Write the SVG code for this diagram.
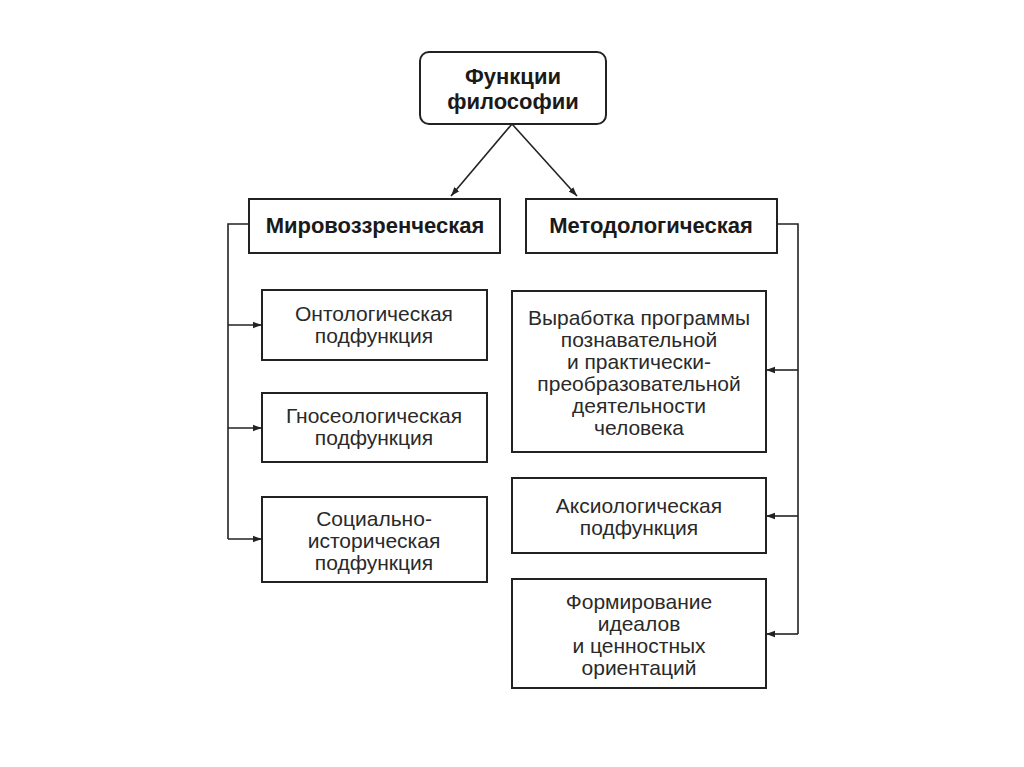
<svg xmlns="http://www.w3.org/2000/svg" width="1024" height="767" viewBox="0 0 1024 767">
<defs>
<marker id="arr" viewBox="0 0 10 10" refX="10" refY="5" markerWidth="9" markerHeight="9" markerUnits="userSpaceOnUse" orient="auto">
<path d="M0,1.5 L10,5 L0,8.5 Z" fill="#222"/>
</marker>
<style>
.box{fill:#fff;stroke:#222;stroke-width:2}
.t{font-family:"Liberation Sans",Arial,sans-serif;font-size:21px;fill:#2a2a2a;text-anchor:middle}
.b{font-weight:bold;fill:#1a1a1a;font-size:22px}
.c{fill:none;stroke:#222;stroke-width:1.6}
</style>
</defs>
<rect width="1024" height="767" fill="#fff"/>
<g id="root">
<rect class="box" x="420" y="52" width="186" height="72" rx="9"/>
<text class="t b" x="513" y="84">Функции</text>
<text class="t b" x="513" y="109">философии</text>
</g>
<g id="mirovozz">
<rect class="box" x="249" y="199" width="251" height="54"/>
<text class="t b" x="375" y="233">Мировоззренческая</text>
</g>
<g id="metodol">
<rect class="box" x="526" y="199" width="251" height="54"/>
<text class="t b" x="651" y="233">Методологическая</text>
</g>
<g id="onto">
<rect class="box" x="262" y="290" width="225" height="70"/>
<text class="t" x="374" y="321">Онтологическая</text>
<text class="t" x="374" y="343">подфункция</text>
</g>
<g id="gnoseo">
<rect class="box" x="262" y="393" width="225" height="69"/>
<text class="t" x="374" y="423">Гносеологическая</text>
<text class="t" x="374" y="445">подфункция</text>
</g>
<g id="social">
<rect class="box" x="262" y="497" width="225" height="85"/>
<text class="t" x="374" y="526">Социально-</text>
<text class="t" x="374" y="548">историческая</text>
<text class="t" x="374" y="570">подфункция</text>
</g>
<g id="vyrabotka">
<rect class="box" x="512" y="291" width="254" height="161"/>
<text class="t" x="639" y="325">Выработка программы</text>
<text class="t" x="639" y="347">познавательной</text>
<text class="t" x="639" y="369">и практически-</text>
<text class="t" x="639" y="391">преобразовательной</text>
<text class="t" x="639" y="413">деятельности</text>
<text class="t" x="639" y="435">человека</text>
</g>
<g id="aksio">
<rect class="box" x="512" y="478" width="254" height="75"/>
<text class="t" x="639" y="513">Аксиологическая</text>
<text class="t" x="639" y="535">подфункция</text>
</g>
<g id="formir">
<rect class="box" x="512" y="579" width="254" height="109"/>
<text class="t" x="639" y="609">Формирование</text>
<text class="t" x="639" y="631">идеалов</text>
<text class="t" x="639" y="653">и ценностных</text>
<text class="t" x="639" y="675">ориентаций</text>
</g>
<g id="connectors">
<line class="c" x1="512" y1="124" x2="451" y2="196" marker-end="url(#arr)"/>
<line class="c" x1="512" y1="124" x2="577" y2="196" marker-end="url(#arr)"/>
<polyline class="c" points="249,224 228,224 228,539"/>
<line class="c" x1="228" y1="325" x2="262" y2="325" marker-end="url(#arr)"/>
<line class="c" x1="228" y1="428" x2="262" y2="428" marker-end="url(#arr)"/>
<line class="c" x1="228" y1="539" x2="262" y2="539" marker-end="url(#arr)"/>
<polyline class="c" points="777,224 798,224 798,634"/>
<line class="c" x1="798" y1="370" x2="766" y2="370" marker-end="url(#arr)"/>
<line class="c" x1="798" y1="516" x2="766" y2="516" marker-end="url(#arr)"/>
<line class="c" x1="798" y1="634" x2="766" y2="634" marker-end="url(#arr)"/>
</g>
</svg>
